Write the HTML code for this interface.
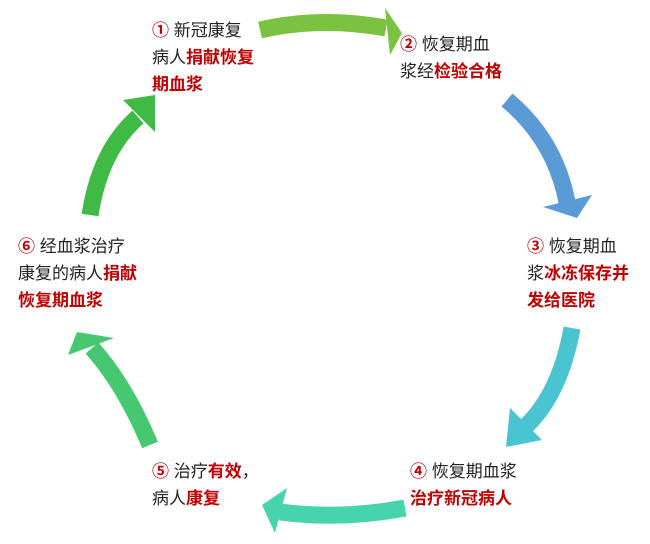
<!DOCTYPE html>
<html><head><meta charset="utf-8"><style>
body{margin:0;width:650px;height:544px;background:#fff;overflow:hidden;position:relative;font-family:"Liberation Sans","Noto Sans CJK SC",sans-serif;}
.t{position:absolute;font-size:17px;line-height:27px;color:#222;white-space:nowrap;}
.r{color:#c00000;font-weight:bold;}
svg{position:absolute;left:0;top:0;}
</style></head><body>
<svg width="650" height="544">
<g fill="none" stroke-width="17" stroke-linecap="butt">
<path d="M260,30 Q320,16 386,28" stroke="#7cc241"/>
<path d="M507,100 Q555,140 567,202" stroke="#5b9bd5"/>
<path d="M572,328 Q560,395 524,428" stroke="#4bc4d2"/>
<path d="M405,508 Q340,520 280,512" stroke="#45d4ac"/>
<path d="M150,445 Q125,385 92,348" stroke="#45c870"/>
<path d="M90,215 Q100,150 138,117" stroke="#3fbb45"/>
</g>
<polygon points="385,8 402,33 390,55" fill="#7cc241"/>
<polygon points="543,207 577,218 592,195" fill="#5b9bd5"/>
<polygon points="510,408 506,447 542,440" fill="#4bc4d2"/>
<polygon points="287,488 262,505 275,533" fill="#45d4ac"/>
<polygon points="68,355 77,332 114,338" fill="#45c870"/>
<polygon points="123,100 155,95 155,132" fill="#3fbb45"/>
</svg>
<div class="t" style="left:152px;top:17px"><span class="r">①</span> 新冠康复<br>病人<span class="r">捐献恢复</span><br><span class="r">期血浆</span></div>
<div class="t" style="left:400px;top:31px"><span class="r">②</span> 恢复期血<br>浆经<span class="r">检验合格</span></div>
<div class="t" style="left:527px;top:233px"><span class="r">③</span> 恢复期血<br>浆<span class="r">冰冻保存并</span><br><span class="r">发给医院</span></div>
<div class="t" style="left:18px;top:233px"><span class="r">⑥</span> 经血浆治疗<br>康复的病人<span class="r">捐献</span><br><span class="r">恢复期血浆</span></div>
<div class="t" style="left:152px;top:458px"><span class="r">⑤</span> 治疗<span class="r">有效</span>，<br>病人<span class="r">康复</span></div>
<div class="t" style="left:410px;top:458px"><span class="r">④</span> 恢复期血浆<br><span class="r">治疗新冠病人</span></div>
</body></html>
